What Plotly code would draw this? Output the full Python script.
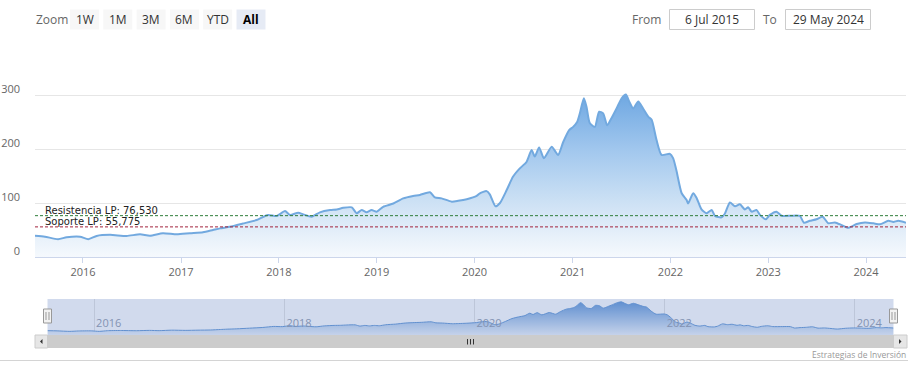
import plotly.graph_objects as go

# ---------------- data ----------------
dates = [
    "2015-07-06", "2015-08-12", "2015-09-30", "2015-11-01", "2015-12-21", "2016-01-21",
    "2016-02-21", "2016-04-11", "2016-06-12", "2016-08-01", "2016-09-07", "2016-10-25",
    "2016-12-16", "2017-02-03", "2017-03-24", "2017-04-30", "2017-05-26", "2017-07-02",
    "2017-08-20", "2017-10-10", "2017-11-21", "2017-12-24", "2018-01-24", "2018-02-11",
    "2018-03-14", "2018-04-02", "2018-05-03", "2018-06-03", "2018-07-11", "2018-08-05",
    "2018-08-29", "2018-09-30", "2018-10-18", "2018-11-06", "2018-11-24", "2018-12-13",
    "2019-01-01", "2019-01-25", "2019-03-04", "2019-04-10", "2019-05-17", "2019-06-11",
    "2019-07-19", "2019-08-06", "2019-08-31", "2019-10-08", "2019-11-01", "2019-12-03",
    "2020-01-09", "2020-01-21", "2020-02-15", "2020-02-27", "2020-03-19", "2020-04-05",
    "2020-04-30", "2020-05-24", "2020-06-18", "2020-07-13", "2020-08-01", "2020-08-13",
    "2020-08-29", "2020-09-16", "2020-10-15", "2020-11-08", "2020-11-27", "2020-12-19",
    "2021-01-03", "2021-01-18", "2021-01-28", "2021-02-12", "2021-02-22", "2021-03-06",
    "2021-03-25", "2021-04-10", "2021-04-25", "2021-05-10", "2021-05-26", "2021-06-14",
    "2021-07-03", "2021-07-19", "2021-07-31", "2021-08-15", "2021-09-03", "2021-09-21",
    "2021-10-10", "2021-10-23", "2021-11-10", "2021-11-29", "2021-12-30", "2022-01-11",
    "2022-01-23", "2022-02-12", "2022-03-02", "2022-03-08", "2022-03-27", "2022-04-09",
    "2022-04-27", "2022-05-16", "2022-06-04", "2022-06-16", "2022-07-11", "2022-07-23",
    "2022-08-11", "2022-08-30", "2022-09-17", "2022-10-06", "2022-10-18", "2022-10-31",
    "2022-11-18", "2022-12-01", "2022-12-23", "2023-01-07", "2023-02-01", "2023-02-20",
    "2023-03-29", "2023-04-29", "2023-05-14", "2023-06-05", "2023-06-30", "2023-07-23",
    "2023-08-13", "2023-09-07", "2023-10-02", "2023-10-26", "2023-11-27", "2023-12-28",
    "2024-01-28", "2024-02-22", "2024-03-24", "2024-04-12", "2024-04-30", "2024-05-29",
]
prices = [
    39.4, 37.6, 33.0, 36.5, 37.6, 33.0,
    39.0, 41.0, 39.0, 42.0, 39.5, 44.0,
    42.0, 44.0, 45.7, 50.0, 53.0, 56.0,
    62.0, 68.5, 77.8, 76.0, 85.0, 77.8,
    82.0, 79.0, 74.6, 82.7, 87.0, 88.0,
    91.0, 92.0, 81.0, 87.0, 82.7, 87.0,
    84.0, 93.0, 99.0, 108.6, 113.0, 115.0,
    119.8, 110.5, 108.6, 102.5, 104.0, 107.0,
    113.0, 118.0, 122.0, 116.0, 94.0, 100.0,
    124.0, 149.0, 164.0, 176.0, 198.0, 186.0,
    203.0, 183.0, 204.0, 189.0, 213.0, 235.0,
    241.0, 250.0, 266.0, 294.0, 278.0, 248.0,
    241.0, 269.0, 266.0, 244.0, 257.0, 275.0,
    294.0, 301.0, 288.0, 275.0, 288.0, 275.0,
    260.0, 254.0, 217.0, 189.0, 191.0, 183.0,
    161.0, 118.0, 106.0, 99.0, 118.0, 109.0,
    88.0, 81.0, 87.0, 76.0, 73.5, 80.0,
    101.0, 94.0, 97.5, 88.0, 92.0, 84.0,
    87.0, 78.0, 70.0, 78.0, 84.0, 76.5,
    76.5, 76.0, 63.5, 67.0, 70.0, 74.6,
    62.4, 64.0, 59.0, 54.0, 61.0, 64.0,
    62.4, 60.6, 67.0, 65.0, 67.0, 63.5,
]
y_tick_values = [0, 100, 200, 300, 400]
y_tick_labels = ["0", "100", "200", "300", ""]
resistance_value = 76.530
support_value = 55.775
resistance_label = "Resistencia LP: 76,530"
support_label = "Soporte LP: 55,775"
zoom_buttons = ["1W", "1M", "3M", "6M", "YTD", "All"]
selected_button = "All"
from_text = "6 Jul 2015"
to_text = "29 May 2024"
credit_text = "Estrategias de Inversión"

# ---------------- geometry helpers ----------------
W, H = 915, 372
FONT = "Open Sans"
LABEL_FONT = "DejaVu Sans"


def px(x):
    return x / W


def py(y):
    return 1 - y / H


fill_scale = [
    [0.0, "#f5f9fd"],
    [0.12, "#e8f1fa"],
    [0.35, "#cbe0f4"],
    [0.65, "#a3c8ee"],
    [1.0, "#6fa8e2"],
]

fig = go.Figure()
fig.add_trace(go.Scatter(
    x=dates, y=prices, mode="lines", xaxis="x", yaxis="y",
    line=dict(color="#72a9df", width=2, shape="spline", smoothing=0.6),
    fill="tozeroy",
    fillgradient=dict(type="vertical", colorscale=fill_scale, start=0, stop=300),
    hoverinfo="skip", showlegend=False,
))
fig.add_trace(go.Scatter(
    x=dates, y=prices, mode="lines", xaxis="x2", yaxis="y2",
    line=dict(color="#5f95d4", width=1, shape="spline", smoothing=0.6),
    fill="tozeroy",
    fillgradient=dict(type="vertical", colorscale=[[0, "#eef4fb"], [1, "#5f95d6"]], start=0, stop=300),
    hoverinfo="skip", showlegend=False,
))

shapes = []
annotations = []

# plot lines (support / resistance)
for val, col in [(resistance_value, "#2f7d3a"), (support_value, "#a3223c")]:
    shapes.append(dict(type="line", xref="paper", yref="y", x0=px(35), x1=px(906),
                       y0=val, y1=val, line=dict(color=col, width=1, dash="3px,2px"),
                       layer="above"))
for val, txt in [(resistance_value, resistance_label), (support_value, support_label)]:
    annotations.append(dict(xref="paper", yref="y", x=px(44), y=val, xanchor="left",
                            yanchor="bottom", text=txt, showarrow=False, yshift=-1,
                            borderpad=0,
                            font=dict(family=LABEL_FONT, size=10, color="#222222")))

# navigator mask
shapes.append(dict(type="rect", xref="paper", yref="paper", x0=px(47.5), x1=px(893.5),
                   y0=py(335), y1=py(299), fillcolor="rgba(102,133,194,0.3)",
                   line=dict(width=0), layer="above"))

# scrollbar
shapes.append(dict(type="rect", xref="paper", yref="paper", x0=px(35), x1=px(907),
                   y0=py(348), y1=py(335), fillcolor="#f2f2f2", line=dict(width=0)))
shapes.append(dict(type="rect", xref="paper", yref="paper", x0=px(47.5), x1=px(893.5),
                   y0=py(348), y1=py(335), fillcolor="#cccccc", line=dict(width=0)))
for x0, x1 in [(35, 47.5), (893.5, 907)]:
    shapes.append(dict(type="rect", xref="paper", yref="paper", x0=px(x0), x1=px(x1),
                       y0=py(348), y1=py(335), fillcolor="#e6e6e6",
                       line=dict(color="#cccccc", width=1)))
shapes.append(dict(type="path", xref="paper", yref="paper",
                   path=f"M {px(40)} {py(341.5)} L {px(42.5)} {py(339)} L {px(42.5)} {py(344)} Z",
                   fillcolor="#333333", line=dict(width=0)))
shapes.append(dict(type="path", xref="paper", yref="paper",
                   path=f"M {px(901.5)} {py(341.5)} L {px(899)} {py(339)} L {px(899)} {py(344)} Z",
                   fillcolor="#333333", line=dict(width=0)))
for gx in (467.5, 470.5, 473.5):
    shapes.append(dict(type="line", xref="paper", yref="paper", x0=px(gx), x1=px(gx),
                       y0=py(339), y1=py(344.5), line=dict(color="#333333", width=1)))

# navigator handles
for hx in (47.5, 893.5):
    shapes.append(dict(type="rect", xref="paper", yref="paper", x0=px(hx - 4), x1=px(hx + 4),
                       y0=py(323), y1=py(309), fillcolor="#f2f2f2",
                       line=dict(color="#999999", width=1), layer="above"))
    for dx in (-1.5, 1.5):
        shapes.append(dict(type="line", xref="paper", yref="paper", x0=px(hx + dx), x1=px(hx + dx),
                           y0=py(320), y1=py(312), line=dict(color="#999999", width=1),
                           layer="above"))

# bottom separator
shapes.append(dict(type="line", xref="paper", yref="paper", x0=0, x1=px(908),
                   y0=py(360.5), y1=py(360.5), line=dict(color="#d4d4d4", width=1)))

# range selector
annotations.append(dict(xref="paper", yref="paper", x=px(34), y=py(20), xanchor="left",
                        yanchor="middle", text="Zoom", showarrow=False,
                        font=dict(family=FONT, size=12, color="#666666")))
bx = 70
for lab in zoom_buttons:
    sel = lab == selected_button
    shapes.append(dict(type="rect", xref="paper", yref="paper", x0=px(bx), x1=px(bx + 29),
                       y0=py(29.5), y1=py(9.5), fillcolor="#e6ebf5" if sel else "#f7f7f7",
                       line=dict(width=0)))
    annotations.append(dict(xref="paper", yref="paper", x=px(bx + 14.5), y=py(19.5),
                            xanchor="center", yanchor="middle",
                            text=f"<b>{lab}</b>" if sel else lab, showarrow=False,
                            font=dict(family=FONT, size=12, color="#000000" if sel else "#333333")))
    bx += 33.3

# from / to inputs
annotations.append(dict(xref="paper", yref="paper", x=px(663), y=py(19.5), xanchor="right",
                        yanchor="middle", text="From", showarrow=False,
                        font=dict(family=FONT, size=12, color="#666666")))
annotations.append(dict(xref="paper", yref="paper", x=px(779), y=py(19.5), xanchor="right",
                        yanchor="middle", text="To", showarrow=False,
                        font=dict(family=FONT, size=12, color="#666666")))
for x0, x1, txt in [(669.5, 754.5, from_text), (785.5, 870.5, to_text)]:
    shapes.append(dict(type="rect", xref="paper", yref="paper", x0=px(x0), x1=px(x1),
                       y0=py(29.5), y1=py(9.5), fillcolor="#ffffff",
                       line=dict(color="#cccccc", width=1)))
    annotations.append(dict(xref="paper", yref="paper", x=px((x0 + x1) / 2), y=py(19.5),
                            xanchor="center", yanchor="middle", text=txt, showarrow=False,
                            font=dict(family=FONT, size=12, color="#333333")))

# credits
annotations.append(dict(xref="paper", yref="paper", x=px(908), y=py(354), xanchor="right",
                        yanchor="middle", text=credit_text, showarrow=False,
                        font=dict(family=FONT, size=8.5, color="#999999")))

fig.update_layout(
    width=W, height=H,
    margin=dict(l=0, r=0, t=0, b=0, autoexpand=False),
    paper_bgcolor="#ffffff", plot_bgcolor="rgba(0,0,0,0)",
    font=dict(family=FONT, size=11, color="#666666"),
    showlegend=False, hovermode=False,
    xaxis=dict(
        domain=[px(35), px(906)], anchor="y", type="date",
        range=[dates[0], dates[-1]], tick0="2016-01-01", dtick="M12", tickformat="%Y",
        ticks="outside", ticklen=5, tickcolor="#ccd6eb", showline=True, linecolor="#ccd6eb",
        showgrid=False, zeroline=False, tickfont=dict(size=11, color="#666666"),
        fixedrange=True, automargin=False,
    ),
    yaxis=dict(
        domain=[py(257), py(41)], anchor="x", range=[0, 400],
        tickmode="array", tickvals=y_tick_values, ticktext=y_tick_labels,
        showgrid=True, gridcolor="#e6e6e6", gridwidth=1, zeroline=False, showline=False,
        ticks="", ticklabelstandoff=14, ticklabelshift=-6,
        tickfont=dict(size=11, color="#666666"), fixedrange=True, automargin=False,
    ),
    xaxis2=dict(
        domain=[px(47.5), px(893.5)], anchor="y2", type="date",
        range=[dates[0], dates[-1]], tick0="2016-01-01", dtick="M24", tickformat="%Y",
        showgrid=True, gridcolor="#e3e3e3", ticks="", ticklabelposition="inside right",
        ticklabelshift=2,
        showline=False, zeroline=False, tickfont=dict(size=11, color="#8f99ab"),
        fixedrange=True, automargin=False,
    ),
    yaxis2=dict(
        domain=[py(335), py(299)], anchor="x2", range=[0, 327], visible=False,
        fixedrange=True,
    ),
    shapes=shapes,
    annotations=annotations,
)

fig.write_html(
    "out.html",
    config={"displayModeBar": False, "staticPlot": True},
    post_script="document.body.style.margin='0';document.body.style.overflow='hidden';",
)
